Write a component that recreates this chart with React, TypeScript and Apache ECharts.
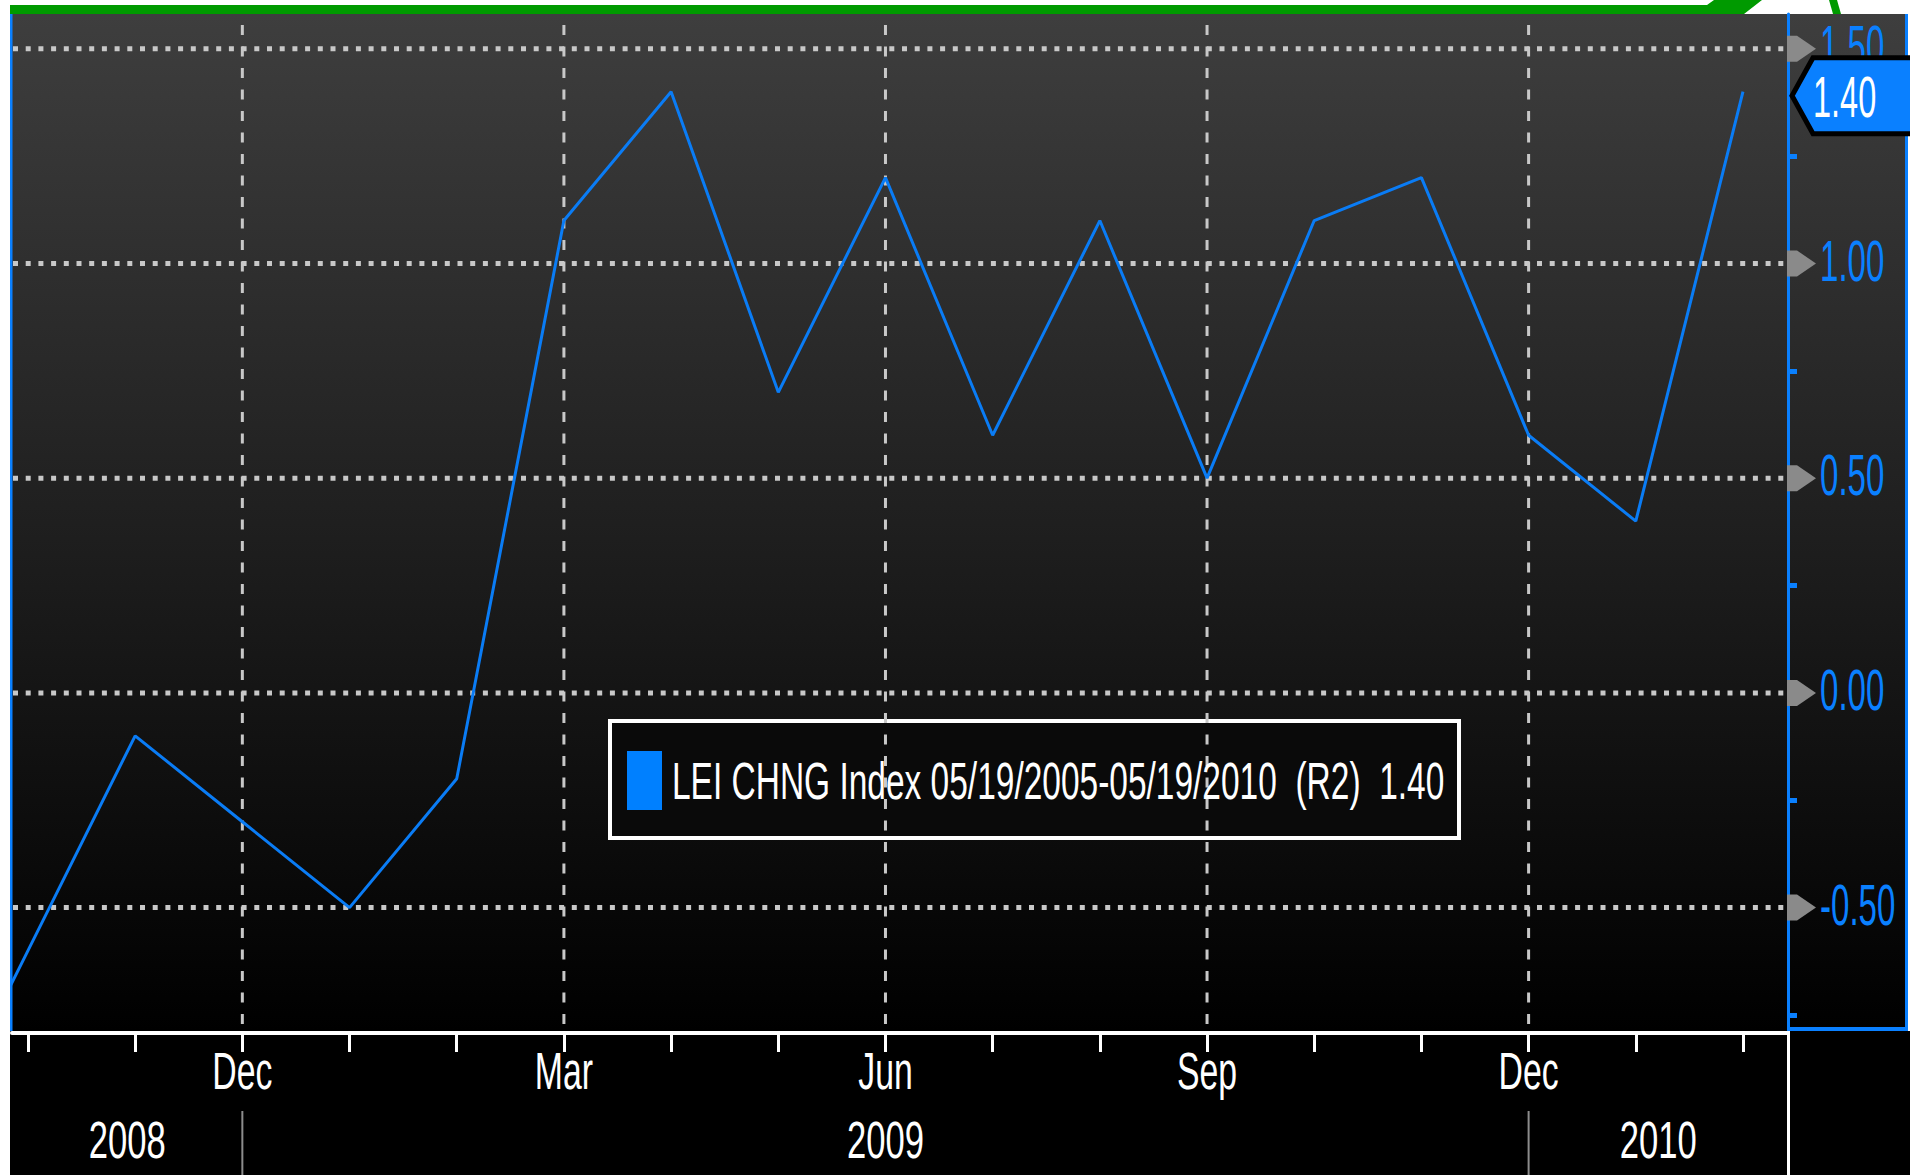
import React, { useEffect, useRef } from 'react';
import * as echarts from 'echarts';

// ---------------- data ----------------
const months = [
  '2008-09', '2008-10', '2008-11', '2008-12', '2009-01', '2009-02', '2009-03', '2009-04', '2009-05',
  '2009-06', '2009-07', '2009-08', '2009-09', '2009-10', '2009-11', '2009-12', '2010-01', '2010-02',
];
const leiChange = [-1.1, -0.6, -0.1, -0.3, -0.5, -0.2, 1.1, 1.4, 0.7, 1.2, 0.6, 1.1, 0.5, 1.1, 1.2, 0.6, 0.4, 1.4];
const monthNames = ['Jan', 'Feb', 'Mar', 'Apr', 'May', 'Jun', 'Jul', 'Aug', 'Sep', 'Oct', 'Nov', 'Dec'];
const quarterMonths = [3, 6, 9, 12];
const yearLabels = ['2008', '2009', '2010'];
const yLabelValues = [-0.5, 0, 0.5, 1.0, 1.5];
const yMinorValues = [-0.75, -0.25, 0.25, 0.75, 1.25];
const seriesName = 'LEI CHNG Index 05/19/2005-05/19/2010  (R2)';

// axis extents (month offset from Oct 2008 on x, index change on y)
const X_MIN = -0.149;
const X_MAX = 16.42;
const Y_MIN = -0.792;
const Y_MAX = 1.581;

const parseMonth = (s: string) => s.split('-').map(Number);
const monthOffset = (s: string) => {
  const [y, m] = parseMonth(s);
  return (y - 2008) * 12 + (m - 10);
};

const FONT = "'Liberation Sans', Arial, sans-serif";
const BLUE = '#0a80ff';
const GRID_GRAY = '#c8c8c8';

export default function App() {
  const ref = useRef<HTMLDivElement>(null);
  useEffect(() => {
    const el = ref.current!;
    const chart = echarts.init(el, null, { renderer: 'svg' });

    const offsets = months.map(monthOffset);
    const tickValues = offsets.filter((v) => v >= X_MIN && v <= X_MAX);

    chart.setOption({
      animation: false,
      backgroundColor: '#ffffff',
      grid: { left: 12, right: 122, top: 14, bottom: 142, containLabel: false },
      xAxis: {
        type: 'value',
        min: X_MIN,
        max: X_MAX,
        axisLine: { show: true, onZero: false, lineStyle: { color: '#ffffff', width: 4 } },
        axisTick: { show: true, customValues: tickValues, length: 19, lineStyle: { color: '#ffffff', width: 3 } },
        axisLabel: { show: false },
        splitLine: { show: false },
      },
      yAxis: {
        type: 'value',
        position: 'right',
        min: Y_MIN,
        max: Y_MAX,
        axisLine: { show: true, onZero: false, lineStyle: { color: BLUE, width: 3 } },
        axisTick: { show: true, customValues: yMinorValues, length: 9, lineStyle: { color: BLUE, width: 5 } },
        axisLabel: { show: false },
        splitLine: { show: false },
      },
      series: [
        {
          type: 'line',
          name: seriesName,
          data: offsets.map((x, i) => [x, leiChange[i]]),
          symbol: 'none',
          clip: true,
          z: 5,
          lineStyle: { color: '#0a7cf5', width: 3 },
        },
      ],
    });

    const xPx = (v: number) => chart.convertToPixel({ xAxisIndex: 0 }, v) as number;
    const yPx = (v: number) => chart.convertToPixel({ yAxisIndex: 0 }, v) as number;
    const gl = xPx(X_MIN);
    const gr = xPx(X_MAX);
    const gt = yPx(Y_MAX);
    const gb = yPx(Y_MIN);

    const els: any[] = [];
    // backgrounds
    els.push({
      type: 'rect', z: -10, silent: true,
      shape: { x: 10, y: gt, width: 1898, height: gb - 2 - gt },
      style: {
        fill: new echarts.graphic.LinearGradient(0, 0, 0, 1, [
          { offset: 0, color: '#3e3e3e' },
          { offset: 1, color: '#000000' },
        ]),
      },
    });
    els.push({ type: 'rect', z: -10, silent: true, shape: { x: 10, y: gb - 2, width: 1900, height: 1175 - gb + 2 }, style: { fill: '#000000' } });
    // green swoosh at top
    els.push({
      type: 'polygon', z: -9, silent: true,
      shape: { points: [[10, 5], [1707, 5], [1714, 0], [1762, 0], [1744, 14], [10, 14]] },
      style: { fill: '#009a00' },
    });
    els.push({
      type: 'polygon', z: -9, silent: true,
      shape: { points: [[1829, 0], [1837, 0], [1841, 14], [1833, 14]] },
      style: { fill: '#009a00' },
    });
    // blue borders
    els.push({ type: 'rect', z: 8, silent: true, shape: { x: 10, y: gt, width: 2.5, height: gb - 2 - gt }, style: { fill: BLUE } });
    els.push({ type: 'rect', z: 8, silent: true, shape: { x: 1905, y: gt, width: 3, height: gb - 2 - gt }, style: { fill: BLUE } });
    els.push({ type: 'rect', z: 8, silent: true, shape: { x: gr - 1, y: gb - 6, width: 1908 - gr + 1, height: 4 }, style: { fill: BLUE } });
    els.push({ type: 'rect', z: 10, silent: true, shape: { x: gr - 1, y: gb - 2, width: 3, height: 1175 - gb + 2 }, style: { fill: '#ffffff' } });

    // horizontal dotted grid lines
    yLabelValues.forEach((v) => {
      const y = yPx(v);
      els.push({
        type: 'line', z: 1, silent: true,
        shape: { x1: gl + 1, y1: y, x2: gr - 2, y2: y },
        style: { stroke: GRID_GRAY, lineWidth: 5, lineDash: [5, 7.7] },
      });
    });
    // vertical dashed grid lines at quarter months
    months.forEach((m, i) => {
      const [, mm] = parseMonth(m);
      const o = offsets[i];
      if (!quarterMonths.includes(mm) || o < X_MIN || o > X_MAX) return;
      const x = xPx(o);
      els.push({
        type: 'line', z: 1, silent: true,
        shape: { x1: x, y1: 25, x2: x, y2: gb - 2 },
        style: { stroke: GRID_GRAY, lineWidth: 3, lineDash: [10, 11.5] },
      });
      els.push({
        type: 'text', z: 20, silent: true, x, y: 1071, scaleX: 0.65,
        style: { text: monthNames[mm - 1], fill: '#ffffff', fontSize: 52, fontFamily: FONT, align: 'center', verticalAlign: 'middle' },
      });
    });
    // year separators and labels
    const bounds: number[] = [gl];
    months.forEach((m, i) => {
      const [, mm] = parseMonth(m);
      const o = offsets[i];
      if (mm !== 12 || o < X_MIN || o > X_MAX) return;
      const x = xPx(o);
      bounds.push(x);
      els.push({ type: 'rect', z: 10, silent: true, shape: { x: x - 1, y: 1111, width: 2, height: 64 }, style: { fill: '#8c8c8c' } });
    });
    bounds.push(gr);
    yearLabels.forEach((label, i) => {
      const cx = (bounds[i] + bounds[i + 1]) / 2;
      els.push({
        type: 'text', z: 20, silent: true, x: cx, y: 1140, scaleX: 0.666,
        style: { text: label, fill: '#ffffff', fontSize: 52, fontFamily: FONT, align: 'center', verticalAlign: 'middle' },
      });
    });

    // right axis arrows and labels
    yLabelValues.forEach((v) => {
      const y = yPx(v);
      els.push({
        type: 'polygon', z: 12, silent: true,
        shape: { points: [[gr - 1, y - 13], [gr + 9, y - 13], [gr + 28, y], [gr + 9, y + 13], [gr - 1, y + 13]] },
        style: { fill: '#8a8a8a' },
      });
      els.push({
        type: 'text', z: 20, silent: true, x: gr + 32, y: y - 3, scaleX: 0.57,
        style: { text: v.toFixed(2), fill: BLUE, fontSize: 58, fontFamily: FONT, align: 'left', verticalAlign: 'middle' },
      });
    });

    // last-value tag
    const last = leiChange[leiChange.length - 1];
    const yc = yPx(last) + 4;
    els.push({
      type: 'polygon', z: 30, silent: true,
      shape: { points: [[gr + 4, yc], [gr + 25, yc - 38], [1914, yc - 38], [1914, yc + 38], [gr + 25, yc + 38]] },
      style: { fill: BLUE, stroke: '#000000', lineWidth: 5 },
    });
    els.push({
      type: 'text', z: 31, silent: true, x: gr + 25, y: yc + 2, scaleX: 0.57,
      style: { text: last.toFixed(2), fill: '#ffffff', fontSize: 57, fontFamily: FONT, align: 'left', verticalAlign: 'middle' },
    });

    // legend box
    els.push({
      type: 'rect', z: -5, silent: true,
      shape: { x: 610, y: 721, width: 849, height: 117 },
      style: { fill: '#0a0a0a', stroke: '#ffffff', lineWidth: 4 },
    });
    els.push({ type: 'rect', z: 20, silent: true, shape: { x: 627, y: 751, width: 35, height: 59 }, style: { fill: '#0080ff' } });
    els.push({
      type: 'text', z: 20, silent: true, x: 672, y: 781, scaleX: 0.644,
      style: { text: seriesName + '  ' + last.toFixed(2), fill: '#ffffff', fontSize: 52, fontFamily: FONT, align: 'left', verticalAlign: 'middle' },
    });

    chart.setOption({ graphic: { elements: els } });
    return () => chart.dispose();
  }, []);
  return <div ref={ref} style={{ position: 'absolute', left: 0, top: 0, width: 1910, height: 1175 }} />;
}
